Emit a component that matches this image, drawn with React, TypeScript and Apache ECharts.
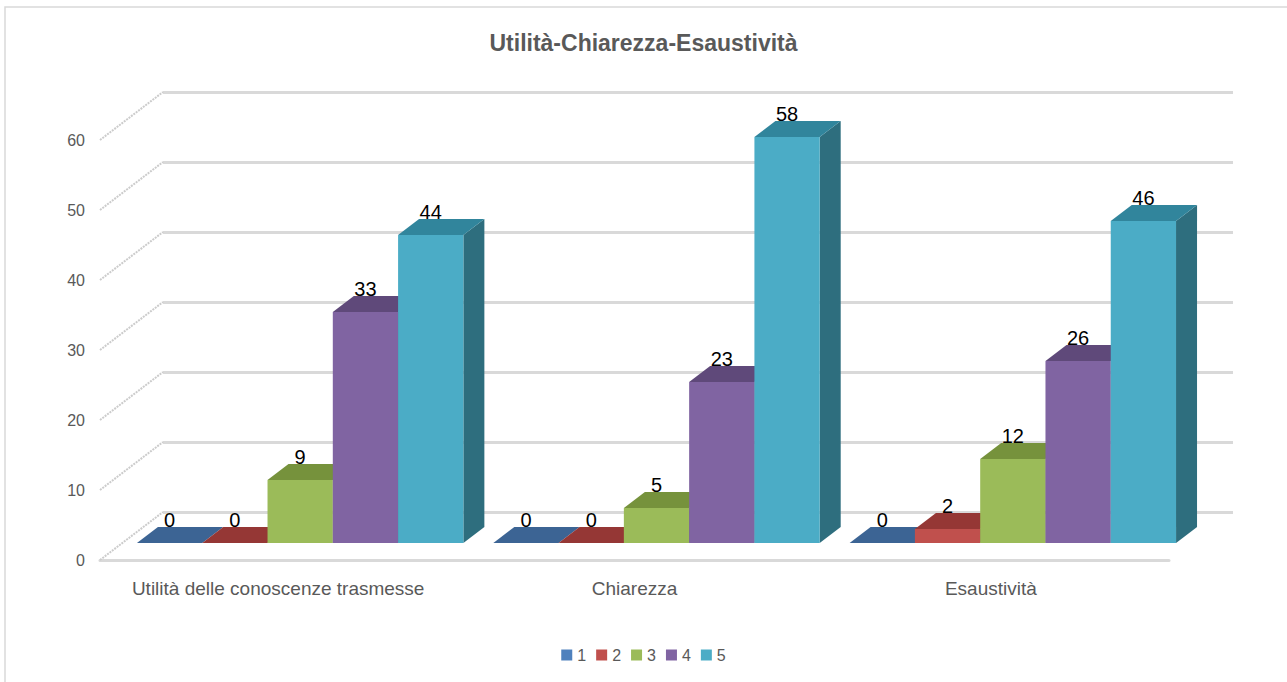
import React, { useEffect, useRef } from "react";
import * as echarts from "echarts";

const title = "Utilità-Chiarezza-Esaustività";
const categories = ["Utilità delle conoscenze trasmesse", "Chiarezza", "Esaustività"];
const seriesNames = ["1", "2", "3", "4", "5"];
const values1 = [0, 0, 0];
const values2 = [0, 0, 2];
const values3 = [9, 5, 12];
const values4 = [33, 23, 26];
const values5 = [44, 58, 46];
const yTicks = [0, 10, 20, 30, 40, 50, 60];
const yMin = 0;
const yMax = 60;
const yStep = 10;

const allValues = [values1, values2, values3, values4, values5];

// styles
const frontColors = ["#4F81BD", "#C0504D", "#9BBB59", "#8064A2", "#4BACC6"];
const topColors = ["#3C6494", "#953735", "#76923C", "#5F497A", "#31859C"];
const sideColors = ["#2F4F75", "#7A2B29", "#5E7530", "#4B3A61", "#2E6E7E"];
const FONT = "'Liberation Sans', Arial, sans-serif";
const TEXT_GRAY = "#595959";
const GRID_GRAY = "#D9D9D9";

// 3D geometry (pixels)
const BAR_DX = 21;
const BAR_DY = -16;
const WALL_DX = 63;
const WALL_DY = -48;
const PAD_RATIO = 0.042;

function makeBarRender(sIdx: number) {
  return (params: any, api: any) => {
    const c = api.value(0);
    const v = api.value(1);
    const base = api.coord([c, 0]);
    const tp = api.coord([c, v]);
    const band = api.size([1, 0])[0];
    const pad = band * PAD_RATIO;
    const bw = (band - 2 * pad) / seriesNames.length;
    const x0 = base[0] - band / 2 + pad + sIdx * bw;
    const x1 = x0 + bw;
    const yb = base[1];
    const yt = tp[1];
    const children: any[] = [];
    children.push({
      type: "polygon",
      shape: { points: [[x1, yt], [x1 + BAR_DX, yt + BAR_DY], [x1 + BAR_DX, yb + BAR_DY], [x1, yb]] },
      style: { fill: sideColors[sIdx] },
    });
    children.push({
      type: "polygon",
      shape: { points: [[x0, yt], [x1, yt], [x1 + BAR_DX, yt + BAR_DY], [x0 + BAR_DX, yt + BAR_DY]] },
      style: { fill: topColors[sIdx] },
    });
    if (yb - yt > 0.5) {
      children.push({
        type: "rect",
        shape: { x: x0, y: yt, width: bw, height: yb - yt },
        style: { fill: frontColors[sIdx] },
      });
    }
    children.push({
      type: "text",
      x: x0 + bw / 2,
      y: yt + BAR_DY - 7,
      z2: 10,
      style: {
        text: String(v),
        fill: "#000000",
        fontSize: 20,
        fontFamily: FONT,
        align: "center",
        verticalAlign: "middle",
      },
    });
    return { type: "group", children };
  };
}

export default function App() {
  const ref = useRef<HTMLDivElement>(null);
  useEffect(() => {
    if (!ref.current) return;
    const chart = echarts.init(ref.current, undefined, { renderer: "svg" });

    const axisBase = (gridIndex: number) => ({
      gridIndex,
      type: "category" as const,
      data: categories,
      boundaryGap: true,
    });
    const yBase = (gridIndex: number) => ({
      gridIndex,
      type: "value" as const,
      min: yMin,
      max: yMax,
      interval: yStep,
    });

    const barSeries = seriesNames.map((name, i) => ({
      name,
      type: "custom" as const,
      xAxisIndex: 1,
      yAxisIndex: 1,
      z: 5,
      itemStyle: { color: frontColors[i] },
      encode: { x: 0, y: 1 },
      data: allValues[i].map((v, ci) => [ci, v]),
      renderItem: makeBarRender(i),
    }));

    const wallSeries = {
      name: "wall",
      type: "custom" as const,
      xAxisIndex: 2,
      yAxisIndex: 2,
      z: 1,
      silent: true,
      encode: { x: 0, y: 1 },
      data: yTicks.map((v) => [0, v]),
      renderItem: (params: any, api: any) => {
        const v = api.value(1);
        const p = api.coord([0, v]);
        const x = params.coordSys.x;
        return {
          type: "line",
          shape: { x1: x, y1: p[1], x2: x + WALL_DX, y2: p[1] + WALL_DY },
          style: { stroke: "#CCCCCC", lineWidth: 2, lineDash: [2, 1] },
        };
      },
    };

    chart.setOption({
      animation: false,
      backgroundColor: "#FFFFFF",
      textStyle: { fontFamily: FONT },
      title: {
        text: title,
        left: "center",
        top: 26,
        textStyle: { fontFamily: FONT, fontSize: 23, fontWeight: "bold", color: TEXT_GRAY },
      },
      legend: {
        data: seriesNames,
        bottom: 14,
        left: "center",
        icon: "rect",
        itemWidth: 11,
        itemHeight: 11,
        itemGap: 10,
        textStyle: { fontFamily: FONT, fontSize: 16, color: TEXT_GRAY },
      },
      graphic: [
        {
          type: "rect",
          shape: { x: 5, y: 7, width: 1300, height: 700 },
          style: { fill: "none", stroke: GRID_GRAY, lineWidth: 1.5 },
          silent: true,
        },
      ],
      grid: [
        { left: 163, right: 54, top: 92, bottom: 170 },
        { left: 122, right: 96, top: 123, bottom: 139 },
        { left: 100, right: 118, top: 140, bottom: 122 },
      ],
      xAxis: [
        { ...axisBase(0), show: false },
        { ...axisBase(1), show: false },
        {
          ...axisBase(2),
          axisLine: { show: true, lineStyle: { color: GRID_GRAY, width: 3 } },
          axisTick: { show: false },
          splitLine: { show: false },
          axisLabel: { interval: 0, margin: 19, fontSize: 19, color: TEXT_GRAY, fontFamily: FONT },
        },
      ],
      yAxis: [
        {
          ...yBase(0),
          axisLine: { show: false },
          axisTick: { show: false },
          axisLabel: { show: false },
          splitLine: { show: true, lineStyle: { color: GRID_GRAY, width: 3 } },
        },
        { ...yBase(1), show: false, splitLine: { show: false } },
        {
          ...yBase(2),
          axisLine: { show: false },
          axisTick: { show: false },
          splitLine: { show: false },
          axisLabel: { margin: 15, fontSize: 16, color: TEXT_GRAY, fontFamily: FONT },
        },
      ],
      series: [wallSeries, ...barSeries],
    });
    return () => chart.dispose();
  }, []);
  return (
    <div
      ref={ref}
      style={{ position: "fixed", left: 0, top: 0, width: 1287, height: 682, background: "#fff" }}
    />
  );
}
